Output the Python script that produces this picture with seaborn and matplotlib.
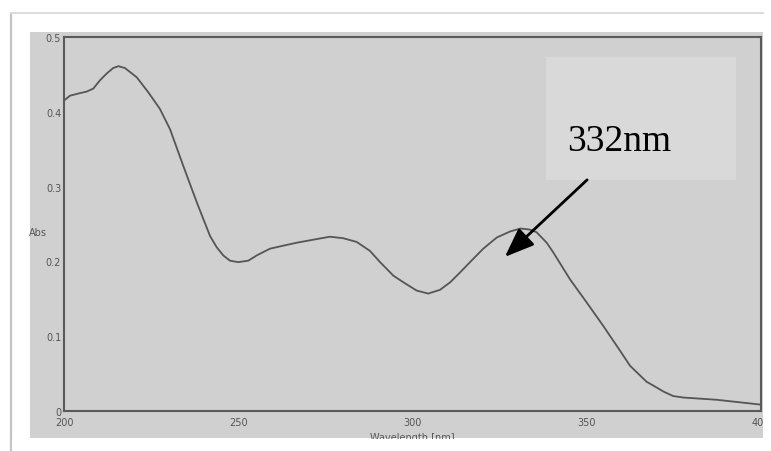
import matplotlib
matplotlib.use("Agg")
import matplotlib.pyplot as plt
from matplotlib.patches import Rectangle
from matplotlib.lines import Line2D
from matplotlib.ticker import MultipleLocator
import seaborn as sns
import pandas as pd

# UV-Vis absorption spectrum
wavelength = [200, 201.7, 204.6, 206.5, 208.4, 210.3, 212.2, 214.1, 215.6, 217.5,
              220.9, 224.2, 227.5, 230.4, 234.2, 238.1, 241.9, 243.8, 245.7, 247.6,
              250, 252.9, 255.3, 259.1, 262.9, 266.8, 271.5, 276.3, 280.1, 284,
              287.8, 290.7, 294.5, 297.4, 301.2, 304.5, 307.9, 310.8, 313.6, 316.5,
              320.3, 324.2, 328, 331, 333.7, 335.6, 338.5, 340.4, 345.2, 350,
              354.7, 359.5, 362.4, 364.3, 367.2, 369.1, 372, 374.8, 377.7, 387.3,
              400]
absorbance = [0.415, 0.4215, 0.425, 0.427, 0.431, 0.442, 0.451, 0.4585, 0.461, 0.4585,
              0.446, 0.426, 0.404, 0.377, 0.328, 0.279, 0.234, 0.219, 0.208, 0.201,
              0.199, 0.201, 0.208, 0.217, 0.221, 0.225, 0.229, 0.233, 0.231, 0.226,
              0.214, 0.199, 0.181, 0.172, 0.161, 0.157, 0.162, 0.172, 0.185, 0.199,
              0.217, 0.232, 0.240, 0.244, 0.2425, 0.239, 0.225, 0.212, 0.176, 0.145,
              0.114, 0.081, 0.0606, 0.052, 0.039, 0.034, 0.026, 0.020, 0.018, 0.015,
              0.0085]

x_ticks = [200, 250, 300, 350, 400]
y_ticks = [0, 0.1, 0.2, 0.3, 0.4, 0.5]
y_tick_labels = ["0", "0.1", "0.2", "0.3", "0.4", "0.5"]

peak_label = "332nm"
peak_arrow_tail = (350.1, 0.309)
peak_arrow_head = (326.5, 0.206)

df = pd.DataFrame({"Wavelength": wavelength, "Abs": absorbance})

sns.set_style("white")
plt.rcParams["font.family"] = ["DejaVu Sans"]
plt.rcParams["lines.solid_joinstyle"] = "round"

W, H = 771, 452
fig = plt.figure(figsize=(W / 100, H / 100), dpi=100)
fig.patch.set_facecolor("white")

# outer frame lines
fig.add_artist(Line2D([11 / W, 11 / W], [0, 1 - 14 / H], color="#c4c4c4", lw=1.6))
fig.add_artist(Line2D([11 / W, 1], [1 - 14 / H, 1 - 14 / H], color="#dcdcdc", lw=1.4))

# gray instrument panel
panel_bg = "#d0d0d0"
fig.patches.append(Rectangle((30 / W, 1 - 439 / H), (763 - 30) / W, (439 - 33) / H,
                             transform=fig.transFigure, facecolor=panel_bg,
                             edgecolor="none", zorder=-5))

ax = fig.add_axes([64 / W, 1 - 412 / H, (761 - 64) / W, (412 - 38) / H])
ax.set_facecolor(panel_bg)

sns.lineplot(data=df, x="Wavelength", y="Abs", ax=ax, color="#555555",
             linewidth=1.3, sort=False, estimator=None)

ax.set_xlim(200, 400)
ax.set_ylim(0, 0.5)
ax.set_xticks(x_ticks)
ax.set_xticklabels([str(v) for v in x_ticks])
ax.set_yticks(y_ticks)
ax.set_yticklabels(y_tick_labels)
ax.xaxis.set_minor_locator(MultipleLocator(25))
ax.yaxis.set_minor_locator(MultipleLocator(0.05))
ax.tick_params(which="major", direction="in", length=6, width=1.2, color="#555555",
               labelsize=7, labelcolor="#555555", pad=2)
ax.tick_params(which="minor", direction="in", length=3, width=1.0, color="#555555")
ax.tick_params(axis="x", pad=4)

for side in ["left", "bottom", "top", "right"]:
    ax.spines[side].set_visible(True)
    ax.spines[side].set_color("#5a5a5a")
    ax.spines[side].set_linewidth(1.5)

ax.set_xlabel("Wavelength [nm]", fontsize=7, color="#555555", labelpad=4)
ax.set_ylabel("Abs", fontsize=7, color="#555555", rotation=0, ha="center", va="center")
ax.yaxis.set_label_coords(-0.037, 0.479)

# peak annotation box and arrow
ax.add_patch(Rectangle((338.3, 0.309), 392.8 - 338.3, 0.473 - 0.309,
                       facecolor="#d9d9d9", edgecolor="none", zorder=3))
ax.text(344.3, 0.349, peak_label, fontsize=27, family="Liberation Serif",
        color="black", ha="left", va="baseline", zorder=4)
ax.annotate("", xy=peak_arrow_head, xytext=peak_arrow_tail,
            arrowprops=dict(arrowstyle="-|>,head_length=0.9,head_width=0.35",
                            mutation_scale=20, color="black", lw=2,
                            shrinkA=0, shrinkB=0), zorder=5)

# white margins trimming the panel edges
fig.patches.append(Rectangle((12 / W, 0), 1, 1 - 440 / H, transform=fig.transFigure,
                             facecolor="white", edgecolor="none", zorder=10))
fig.patches.append(Rectangle((764 / W, 1 - 440 / H), 1, 1, transform=fig.transFigure,
                             facecolor="white", edgecolor="none", zorder=10))

fig.savefig("out.png", dpi=100)
